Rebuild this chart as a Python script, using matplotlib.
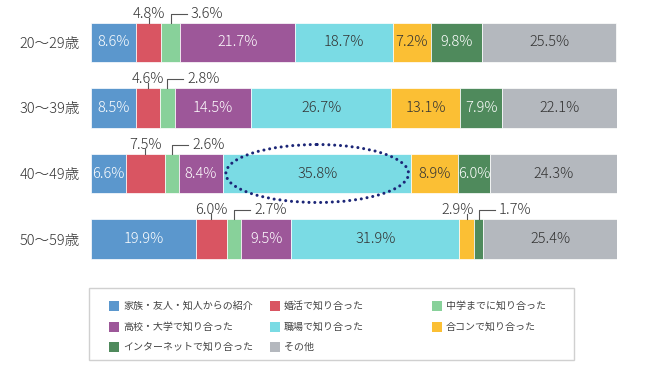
import matplotlib.pyplot as plt
from matplotlib.patches import Ellipse, Rectangle
import numpy as np

plt.rcParams['font.family'] = ['Noto Sans CJK JP', 'DejaVu Sans']

# data (percent)
ages = ['20〜29歳', '30〜39歳', '40〜49歳', '50〜59歳']
categories = ['家族・友人・知人からの紹介', '婚活で知り合った', '中学までに知り合った',
              '高校・大学で知り合った', '職場で知り合った', '合コンで知り合った',
              'インターネットで知り合った', 'その他']
shoukai = [8.6, 8.5, 6.6, 19.9]
konkatsu = [4.8, 4.6, 7.5, 6.0]
chugaku = [3.6, 2.8, 2.6, 2.7]
koukou = [21.7, 14.5, 8.4, 9.5]
shokuba = [18.7, 26.7, 35.8, 31.9]
goukon = [7.2, 13.1, 8.9, 2.9]
internet = [9.8, 7.9, 6.0, 1.7]
sonota = [25.5, 22.1, 24.3, 25.4]

series = [shoukai, konkatsu, chugaku, koukou, shokuba, goukon, internet, sonota]
colors = ['#5b97cd', '#d95562', '#88d19a', '#9d5799', '#7adbe4', '#fbbf34', '#4f8a5c', '#b4b8be']
text_colors = ['white', 'white', 'white', 'white', '#333333', '#333333', 'white', '#333333']
DARK = '#333333'
LBL = dict(fontsize=10.5, fontweight='light')

W, H = 648, 387
fig = plt.figure(figsize=(W / 100, H / 100), dpi=100)
ax = fig.add_axes([91 / W, 1 - 271.75 / H, 526 / W, 262 / H])
ax.set_xlim(0, 100)
ax.set_ylim(3.5, -0.5)
xpx = 100 / 526   # data units per pixel
ypx = 4 / 262
bar_h = 0.6

data = np.array(series)
lefts = np.vstack([np.zeros(len(ages)), np.cumsum(data, axis=0)[:-1]])
rows = np.arange(len(ages))

for k, vals in enumerate(series):
    ax.barh(rows, vals, left=lefts[k], height=bar_h, color=colors[k],
            edgecolor='white', linewidth=0.5)

for i in rows:
    outside = [k for k in range(len(series)) if k in (1, 2) or data[k, i] < 3]
    top = i - bar_h / 2
    ylab = top - 9 * ypx
    for k in range(len(series)):
        v = data[k, i]
        xc = lefts[k, i] + v / 2
        lab = f'{v:.1f}%'
        if k not in outside:
            ax.text(xc, i, lab, ha='center', va='center', color=text_colors[k], **LBL)
            continue
        pos = outside.index(k)
        if pos % 2 == 0:
            # centered label above the segment with a small tick
            nxt = k + 1
            near = (lefts[nxt, i] + data[nxt, i] / 2 - xc) / xpx < 15
            ax.plot([xc, xc], [top, top - 5 * ypx], color='#555555', lw=0.8)
            if near:
                ax.text(xc + 7 * xpx, ylab, lab, ha='right', va='center', color=DARK, **LBL)
            else:
                ax.text(xc, ylab, lab, ha='center', va='center', color=DARK, **LBL)
        else:
            # bracket leader to the right
            ax.plot([xc, xc, xc + 16 * xpx], [top, ylab, ylab], color='#555555', lw=0.8)
            ax.text(xc + 20 * xpx, ylab, lab, ha='left', va='center', color=DARK, **LBL)

# highlight ellipse around 職場 for 40〜49歳
r = 2
ax.add_patch(Ellipse((lefts[4, r] + data[4, r] / 2, r), data[4, r] * 0.97, 0.885,
                     fill=False, edgecolor='#1c2677', lw=2.2,
                     linestyle=(0, (0.01, 1.9)), capstyle='round', zorder=5))

ax.set_yticks(rows)
ax.set_yticklabels(ages, fontsize=10.5, color=DARK, fontweight='light')
ax.tick_params(axis='y', length=0, pad=8)
ax.set_xticks([])
for s in ax.spines.values():
    s.set_visible(False)

# legend drawn in figure pixels
def fx(x):
    return x / W

def fy(y):
    return 1 - y / H

fig.add_artist(Rectangle((fx(89), fy(360)), fx(574 - 89), 72 / H, fill=False,
                         edgecolor='#d0d0d0', lw=1, transform=fig.transFigure))
col_x = [109, 270, 432]
row_y = [306, 327, 347]
for idx, name in enumerate(categories):
    cx = col_x[idx % 3]
    cy = row_y[idx // 3]
    fig.add_artist(Rectangle((fx(cx), fy(cy + 5)), fx(10), 10 / H,
                             facecolor=colors[idx], edgecolor='none',
                             transform=fig.transFigure))
    fig.text(fx(cx + 14), fy(cy), name, fontsize=7.2, color='#444444',
             ha='left', va='center')

fig.savefig('out.png', dpi=100)
